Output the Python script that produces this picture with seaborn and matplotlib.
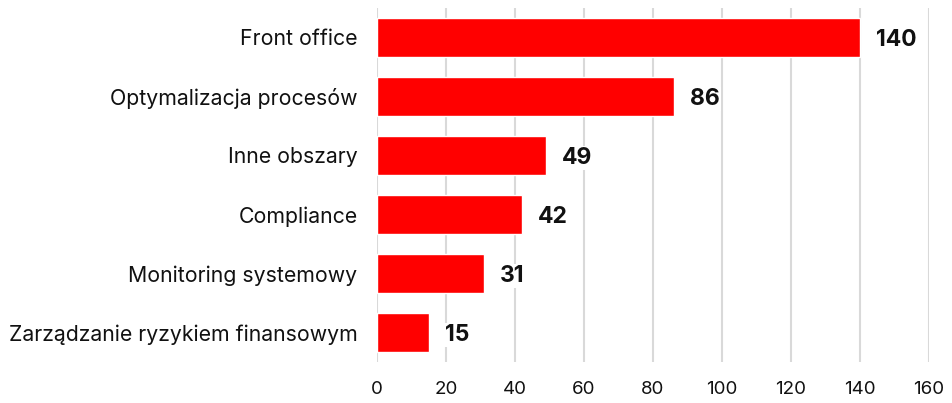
import matplotlib
matplotlib.use("Agg")
import matplotlib.pyplot as plt
import seaborn as sns
import pandas as pd

categories = ["Front office", "Optymalizacja procesów", "Inne obszary", "Compliance",
              "Monitoring systemowy", "Zarządzanie ryzykiem finansowym"]
values = [140, 86, 49, 42, 31, 15]
xticks = [0, 20, 40, 60, 80, 100, 120, 140, 160]

sns.set_theme(style="white")
plt.rcParams['font.family'] = ['Inter', 'DejaVu Sans']

df = pd.DataFrame({"cat": categories, "val": values})
fig = plt.figure(figsize=(9.53, 4.03), dpi=100)
ax = fig.add_axes([0.3956, 0.1017, 0.5792, 0.8785])
sns.barplot(data=df, y="cat", x="val", color="#ff0000", saturation=1, width=0.66, ax=ax, zorder=2)
ax.set_xlim(0, 160)
ax.set_ylim(5.5, -0.5)
ax.set_xticks(xticks)
ax.set_xticklabels([str(t) for t in xticks], fontsize=13.5, color="#111111")
ax.tick_params(axis='y', labelsize=15.3, colors="#111111", length=0, pad=14)
ax.tick_params(axis='x', length=0, pad=14)
ax.set_xlabel("")
ax.set_ylabel("")
for s in ax.spines.values():
    s.set_visible(False)
ax.grid(axis='x', color="#d9d9d9", linewidth=1.5, zorder=0)
ax.set_axisbelow(True)
for i, v in enumerate(values):
    ax.text(v + 4.7, i, str(v), va='center_baseline', ha='left', fontsize=16.5, fontweight='bold',
            color="#111111", zorder=3,
            bbox=dict(facecolor='white', edgecolor='none', pad=1))
fig.savefig("out.png", dpi=100)
